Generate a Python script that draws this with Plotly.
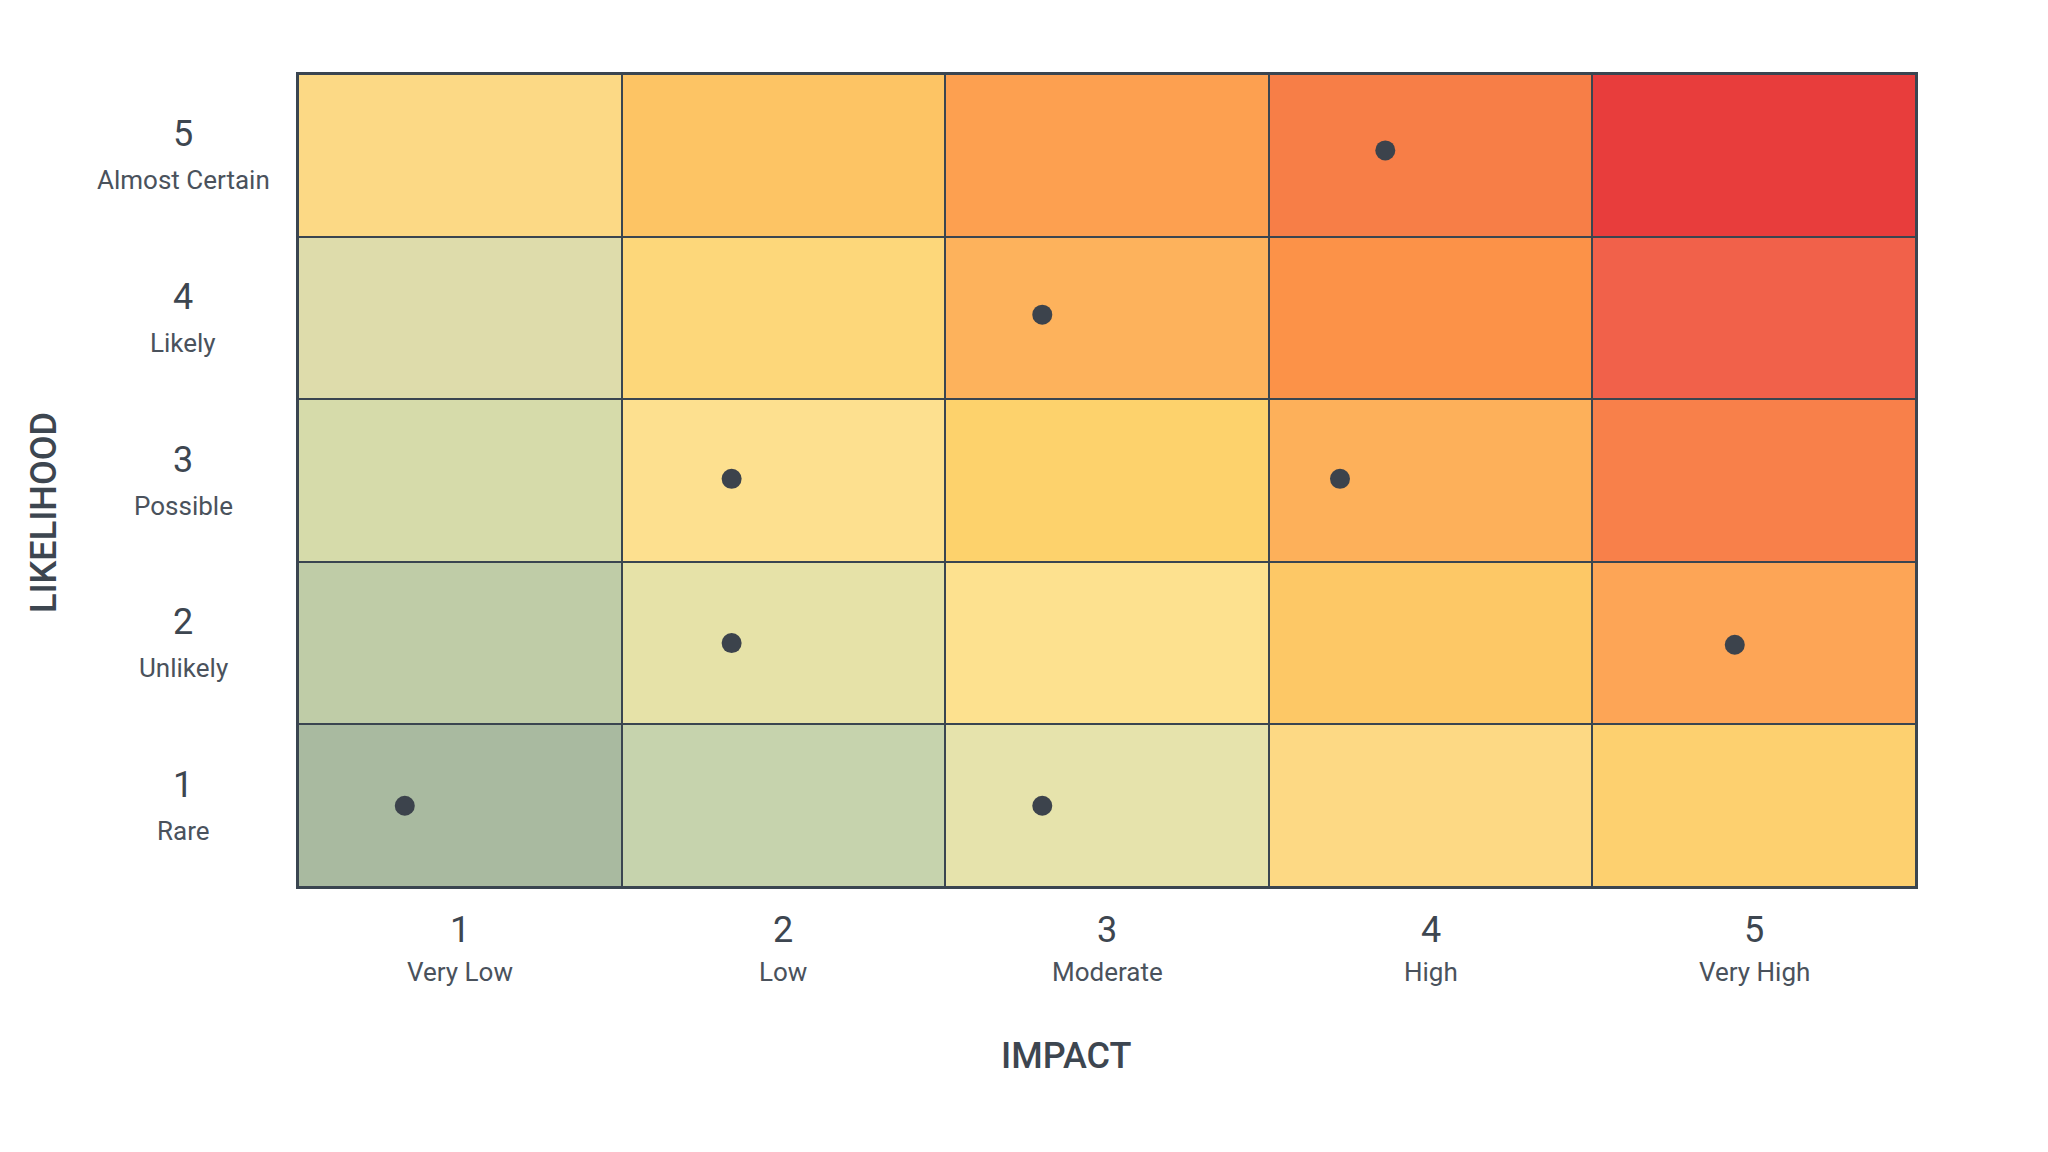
import numpy as np
import plotly.graph_objects as go

# axis categories
impact_levels = [1, 2, 3, 4, 5]
impact_labels = ["Very Low", "Low", "Moderate", "High", "Very High"]
likelihood_levels = [1, 2, 3, 4, 5]
likelihood_labels = ["Rare", "Unlikely", "Possible", "Likely", "Almost Certain"]

# cell colours, one row per likelihood level (1 = Rare ... 5 = Almost Certain)
row_rare = ["#a9baa0", "#c6d3ad", "#e6e3ac", "#fdd984", "#fdd06f"]
row_unlikely = ["#bfcca7", "#e6e2a8", "#fde18f", "#fdc866", "#fda556"]
row_possible = ["#d6dbaa", "#fde08f", "#fdd26c", "#fdb05a", "#f8804a"]
row_likely = ["#dedcab", "#fdd77a", "#fdb25c", "#fc9248", "#f1614a"]
row_certain = ["#fcd985", "#fdc464", "#fda050", "#f77e47", "#e83d3c"]

# plotted risks
risk_impact = [0.83, 2.80, 1.84, 4.94, 1.84, 3.72, 2.80, 3.86]
risk_likelihood = [1.00, 1.00, 2.00, 1.99, 3.01, 3.01, 4.02, 5.03]

text_dark = "#3d4650"
text_mid = "#4a525c"
grid_col = "#3a4550"

cell_rows = [row_rare, row_unlikely, row_possible, row_likely, row_certain]
n_rows, n_cols = len(likelihood_levels), len(impact_levels)
flat_colors = [c for row in cell_rows for c in row]
n_cells = len(flat_colors)

# each cell gets its own index, the colorscale maps index -> cell colour
z_idx = np.arange(n_cells).reshape(n_rows, n_cols)
colorscale = [[k / (n_cells - 1), c] for k, c in enumerate(flat_colors)]
score = np.outer(likelihood_levels, impact_levels)

fig = go.Figure()

fig.add_trace(go.Heatmap(
    x=impact_levels,
    y=likelihood_levels,
    z=z_idx,
    zmin=0, zmax=n_cells - 1,
    colorscale=colorscale,
    showscale=False,
    xgap=2, ygap=2,
    customdata=score,
    hovertemplate="Impact %{x}<br>Likelihood %{y}<br>Score %{customdata}<extra></extra>",
))

fig.add_trace(go.Scatter(
    x=risk_impact,
    y=risk_likelihood,
    mode="markers",
    marker=dict(size=20, color="#3c434c"),
    hovertemplate="Impact %{x:.1f}<br>Likelihood %{y:.1f}<extra></extra>",
    showlegend=False,
))

# tick labels as annotations (number + description)
annos = []
for lvl, lab in zip(impact_levels, impact_labels):
    annos.append(dict(x=lvl, y=0, xref="x", yref="paper", yanchor="middle",
                      yshift=-43, text=str(lvl), showarrow=False,
                      font=dict(size=36, color=text_dark)))
    annos.append(dict(x=lvl, y=0, xref="x", yref="paper", yanchor="middle",
                      yshift=-85, text=lab, showarrow=False,
                      font=dict(size=26, color=text_mid)))
for lvl, lab in zip(likelihood_levels, likelihood_labels):
    annos.append(dict(x=0, y=lvl, xref="paper", yref="y", xanchor="center",
                      xshift=-115, yshift=21, text=str(lvl), showarrow=False,
                      font=dict(size=36, color=text_dark)))
    annos.append(dict(x=0, y=lvl, xref="paper", yref="y", xanchor="center",
                      xshift=-115, yshift=-25, text=lab, showarrow=False,
                      font=dict(size=26, color=text_mid)))

# axis titles
annos.append(dict(x=0.475, y=0, xref="paper", yref="paper", yshift=-192,
                  text="IMPACT", showarrow=False,
                  font=dict(size=36, color=text_dark, weight=500)))
annos.append(dict(x=0, y=0.46, xref="paper", yref="paper", xshift=-277,
                  text="LIKELIHOOD", showarrow=False, textangle=-90,
                  font=dict(size=36, color=text_dark, weight=500)))

# page body adds an 8px offset, margins are set to compensate
fig.update_layout(
    width=2048, height=1152,
    margin=dict(l=290, r=140, t=66, b=273),
    paper_bgcolor="white",
    plot_bgcolor=grid_col,
    font=dict(family="Roboto, Arial, sans-serif", color=text_dark),
    annotations=annos,
    showlegend=False,
)
fig.update_xaxes(range=[0.5, 5.5], showticklabels=False, showgrid=False,
                 zeroline=False, showline=True, linecolor=grid_col,
                 linewidth=2, mirror=True, ticks="")
fig.update_yaxes(range=[0.5, 5.5], showticklabels=False, showgrid=False,
                 zeroline=False, showline=True, linecolor=grid_col,
                 linewidth=2, mirror=True, ticks="")

fig.write_html("out.html")
